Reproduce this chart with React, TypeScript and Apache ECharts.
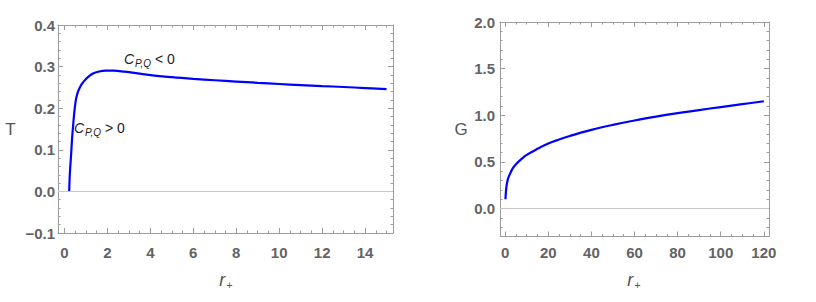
import React, { useEffect, useRef } from "react";
import * as echarts from "echarts";

// ---- data ----
const tR = [0.22, 0.24, 0.27, 0.31, 0.36, 0.42, 0.48, 0.54, 0.62, 0.7, 0.82, 0.96, 1.15, 1.35, 1.6, 1.9, 2.3, 2.8, 3.4, 4, 5, 6, 7, 8, 9, 10, 11, 12, 13, 14, 15];
const tT = [0, 0.03, 0.058, 0.088, 0.13, 0.168, 0.2, 0.222, 0.238, 0.248, 0.259, 0.268, 0.277, 0.284, 0.288, 0.2905, 0.2903, 0.2878, 0.2838, 0.2795, 0.2745, 0.2705, 0.2672, 0.264, 0.261, 0.2582, 0.2556, 0.2532, 0.251, 0.2484, 0.2458];

const gR = [0.14, 0.3, 0.6, 1.2, 2, 3.5, 5, 7.5, 10, 15, 20, 25, 30, 40, 50, 60, 70, 80, 90, 100, 110, 120];
const gG = [0.1, 0.165, 0.235, 0.31, 0.36, 0.43, 0.475, 0.53, 0.575, 0.64, 0.697, 0.74, 0.778, 0.843, 0.897, 0.944, 0.985, 1.022, 1.056, 1.088, 1.119, 1.15];

// ---- tick labels ----
const leftXTicks = [0, 2, 4, 6, 8, 10, 12, 14];
const leftYTicks = [-0.1, 0, 0.1, 0.2, 0.3, 0.4];
const rightXTicks = [0, 20, 40, 60, 80, 100, 120];
const rightYTicks = [0, 0.5, 1, 1.5, 2];

const FRAME = "#9c9c9c";
const LABEL = "#636363";
const FONT = "Liberation Sans, Arial, sans-serif";

function minors(lo: number, hi: number, sub: number, per: number) {
  const out: number[] = [];
  for (let k = Math.ceil(lo / sub - 1e-9); k <= Math.floor(hi / sub + 1e-9); k++) {
    if (k % per !== 0) out.push(Math.round(k * sub * 1e6) / 1e6);
  }
  return out;
}

function fmt(v: number) {
  const s = v.toFixed(1);
  return s.replace("-", "\u2212");
}

function axes(
  dim: "x" | "y",
  gridIndex: number,
  min: number,
  max: number,
  majors: number[],
  minorVals: number[],
  labelFmt: (v: number) => string,
  labelMargin: number
) {
  const pos1 = dim === "x" ? "bottom" : "left";
  const pos2 = dim === "x" ? "top" : "right";
  const base = {
    type: "value",
    gridIndex,
    min,
    max,
    splitLine: { show: false },
    minorTick: { show: false },
    minorSplitLine: { show: false },
  };
  const line = { show: true, onZero: false, lineStyle: { color: FRAME, width: 1 } };
  const noLine = { show: false, onZero: false };
  return [
    {
      ...base,
      position: pos1,
      axisLine: line,
      axisTick: { show: true, inside: true, length: 5, customValues: majors, lineStyle: { color: FRAME } },
      axisLabel: {
        show: true,
        customValues: majors,
        formatter: (v: number) => labelFmt(v),
        color: LABEL,
        fontWeight: "bold",
        fontSize: 15,
        fontFamily: FONT,
        margin: labelMargin,
      },
    },
    {
      ...base,
      position: pos1,
      axisLine: noLine,
      axisTick: { show: true, inside: true, length: 2.5, customValues: minorVals, lineStyle: { color: FRAME } },
      axisLabel: { show: false },
    },
    {
      ...base,
      position: pos2,
      axisLine: line,
      axisTick: { show: true, inside: true, length: 5, customValues: majors, lineStyle: { color: FRAME } },
      axisLabel: { show: false },
    },
    {
      ...base,
      position: pos2,
      axisLine: noLine,
      axisTick: { show: true, inside: true, length: 2.5, customValues: minorVals, lineStyle: { color: FRAME } },
      axisLabel: { show: false },
    },
  ];
}

function cLabel(sign: string) {
  return {
    text: "{c|C}{s|P,Q}{n| " + sign + " 0}",
    rich: {
      c: { fontStyle: "italic", fontSize: 14, fontFamily: FONT, fill: "#222" },
      s: { fontStyle: "italic", fontSize: 10, fontFamily: FONT, fill: "#222", padding: [9, 0, 0, 1] },
      n: { fontSize: 14, fontFamily: FONT, fill: "#222" },
    },
    align: "left",
    verticalAlign: "middle",
  };
}

function rLabel() {
  return {
    text: "{r|r}{s|+}",
    rich: {
      r: { fontStyle: "italic", fontSize: 18, fontFamily: FONT, fill: "#555" },
      s: { fontSize: 11, fontFamily: FONT, fill: "#555", padding: [10, 0, 0, 1] },
    },
    align: "center",
    verticalAlign: "middle",
  };
}

export default function App() {
  const ref = useRef<HTMLDivElement>(null);
  useEffect(() => {
    if (!ref.current) return;
    const chart = echarts.init(ref.current, null, { renderer: "svg" });

    const xAxes = [
      ...axes("x", 0, -0.3, 15.3, leftXTicks, minors(-0.3, 15.3, 0.5, 4), (v) => String(v), 12),
      ...axes("x", 1, -2.4, 122.4, rightXTicks, minors(-2.4, 122.4, 5, 4), (v) => String(v), 8),
    ];
    const yAxes = [
      ...axes("y", 0, -0.1, 0.4, leftYTicks, minors(-0.1, 0.4, 0.02, 5), fmt, 3),
      ...axes("y", 1, -0.3, 2.0, rightYTicks, minors(-0.3, 2.0, 0.1, 5), fmt, 5),
    ];

    const zeroLine = {
      silent: true,
      symbol: "none",
      label: { show: false },
      lineStyle: { color: "#c8c8c8", width: 1, type: "solid" },
      data: [{ yAxis: 0 }],
    };

    chart.setOption({
      animation: false,
      grid: [
        { left: 58, top: 25, width: 335, height: 208 },
        { left: 500, top: 22, width: 269, height: 214.5 },
      ],
      xAxis: xAxes,
      yAxis: yAxes,
      series: [
        {
          type: "line",
          xAxisIndex: 0,
          yAxisIndex: 0,
          data: tR.map((r, i) => [r, tT[i]]),
          showSymbol: false,
          smooth: 0.4,
          clip: true,
          lineStyle: { color: "#0000ff", width: 2.2 },
          markLine: zeroLine,
          z: 3,
        },
        {
          type: "line",
          xAxisIndex: 4,
          yAxisIndex: 4,
          data: gR.map((r, i) => [r, gG[i]]),
          showSymbol: false,
          smooth: 0.4,
          clip: true,
          lineStyle: { color: "#0000ff", width: 2.2 },
          markLine: zeroLine,
          z: 3,
        },
      ],
      graphic: [
        { type: "text", x: 10.5, y: 129.5, style: { text: "T", fontSize: 17, fontFamily: FONT, fill: "#555", align: "center", verticalAlign: "middle" } },
        { type: "text", x: 461, y: 129.5, style: { text: "G", fontSize: 17, fontFamily: FONT, fill: "#555", align: "center", verticalAlign: "middle" } },
        { type: "text", x: 226, y: 280, style: rLabel() },
        { type: "text", x: 634, y: 280, style: rLabel() },
        { type: "text", x: 124, y: 59, style: cLabel("<") },
        { type: "text", x: 74, y: 128, style: cLabel(">") },
      ],
    });
    return () => chart.dispose();
  }, []);
  return <div ref={ref} style={{ position: "absolute", left: 0, top: 0, width: 816, height: 302 }} />;
}
